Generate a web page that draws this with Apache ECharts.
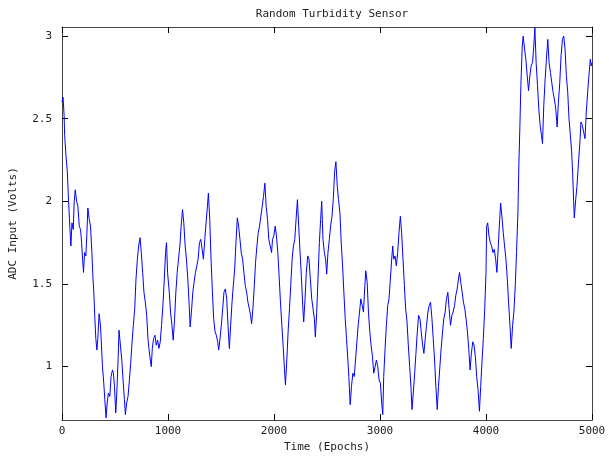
<!DOCTYPE html>
<html><head><meta charset="utf-8">
<script src="https://cdn.jsdelivr.net/npm/echarts@6/dist/echarts.min.js"></script>
<style>html,body{margin:0;padding:0;background:#fff}#c{width:609px;height:458px}</style>
</head><body><div id="c"></div>
<script>
const chartTitle = 'Random Turbidity Sensor';
const xName = 'Time (Epochs)';
const yName = 'ADC Input (Volts)';
const xRange = [0, 5000];
const xStep = 1000;
const yRange = [0.677, 3.055];
const yTicks = [1, 1.5, 2, 2.5, 3];

const epochs = [
0,10,20,25,37,50,62,75,84,94,106,115,125,138,150,163,175,185,194,203,213,225,235,244,257,269,282,291,300,310,319,329,338,350,363,372,382,394,404,416,426,438,451,463,476,485,495,507,517,529,538,551,564,576,589,598,610,623,636,648,661,673,686,698,711,723,736,748,761,773,786,799,811,820,833,842,852,864,877,889,902,914,927,939,952,965,977,986,
996,1012,1024,1037,1049,1062,1074,1087,1099,1112,1124,1137,1149,1162,1174,1187,1200,1209,1221,1234,1246,1259,1272,1284,1297,1309,1322,1334,1347,1359,1372,1381,1394,1406,1419,1431,1444,1456,1469,1478,1491,1503,1516,1528,1541,1554,1566,1579,1591,1604,1616,1629,1641,1654,1666,1679,1691,1704,1716,1729,1742,1754,1767,1779,1789,1801,1814,1826,1839,1851,1864,1876,1889,1901,1914,1926,1939,1951,1964,1977,
1986,1998,2011,2023,2036,2048,2061,2074,2086,2099,2108,2121,2133,2146,2158,2171,2183,2196,2208,2221,2233,2246,2258,2271,2280,2293,2305,2318,2330,2343,2356,2368,2381,2390,2403,2415,2428,2440,2450,2462,2475,2487,2497,2509,2522,2534,2547,2559,2572,2584,2597,2609,2622,2634,2647,2659,2672,2684,2697,2706,2719,2731,2744,2757,2769,2782,2794,2807,2819,2832,2844,2857,2866,2879,2891,2904,2916,2929,2941,2954,2966,2979,
2991,3004,3016,3026,3035,3048,3060,3073,3085,3098,3110,3120,3129,3142,3154,3167,3179,3192,3204,3217,3230,3242,3255,3267,3280,3292,3302,3314,3327,3339,3352,3364,3377,3389,3402,3414,3427,3439,3452,3464,3477,3490,3502,3515,3527,3540,3552,3565,3577,3590,3602,3615,3627,3640,3652,3665,3678,3690,3703,3715,3728,3740,3750,3762,3775,3787,3800,3812,3825,3837,3850,3862,3875,3887,3900,3912,3925,3938,3950,3963,3975,3988,4000,
4006,4016,4028,4041,4053,4066,4078,4091,4103,4116,4129,4138,4150,4163,4175,4188,4201,4213,4226,4238,4251,4263,4276,4288,4301,4310,4320,4329,4342,4351,4364,4376,4389,4401,4414,4426,4439,4451,4461,4473,4486,4498,4511,4523,4533,4545,4558,4570,4583,4595,4608,4620,4633,4645,4658,4671,4683,4696,4708,4721,4733,4746,4758,4771,4783,4796,4808,4818,4827,4833,4846,4858,4871,4884,4896,4909,4921,4934,4946,4959,4971,4984,4993,5000
];

const volts = [
2.60,2.63,2.52,2.40,2.28,2.18,2.00,1.83,1.73,1.87,1.83,2.00,2.07,2.00,1.97,1.85,1.83,1.75,1.65,1.57,1.69,1.67,1.81,1.96,1.89,1.85,1.69,1.55,1.45,1.29,1.17,1.10,1.17,1.32,1.25,1.13,1.00,0.90,0.80,0.69,0.78,0.84,0.82,0.94,0.98,0.96,0.88,0.72,0.84,1.04,1.22,1.13,1.04,0.92,0.80,0.71,0.78,0.82,0.92,1.02,1.15,1.25,1.35,1.53,1.65,1.73,1.78,1.69,1.57,1.45,1.39,1.31,1.17,1.11,1.04,1.00,1.11,1.17,1.19,1.13,1.16,1.11,1.15,1.25,1.37,1.53,1.69,1.75,
1.57,1.45,1.33,1.25,1.16,1.29,1.45,1.57,1.65,1.73,1.85,1.95,1.87,1.73,1.65,1.53,1.37,1.24,1.33,1.45,1.51,1.57,1.61,1.65,1.75,1.77,1.71,1.65,1.77,1.87,1.97,2.05,1.89,1.65,1.45,1.29,1.21,1.19,1.15,1.10,1.17,1.25,1.35,1.45,1.47,1.41,1.25,1.11,1.25,1.39,1.49,1.59,1.75,1.90,1.85,1.77,1.69,1.65,1.57,1.49,1.45,1.39,1.35,1.31,1.26,1.35,1.49,1.63,1.73,1.81,1.85,1.91,1.97,2.03,2.11,1.97,1.89,1.77,1.73,1.69,
1.77,1.79,1.85,1.79,1.69,1.55,1.39,1.25,1.13,0.98,0.89,1.04,1.21,1.35,1.49,1.65,1.73,1.77,1.89,2.01,1.85,1.69,1.55,1.37,1.27,1.41,1.57,1.67,1.65,1.53,1.41,1.35,1.29,1.18,1.33,1.53,1.75,1.89,2.00,1.77,1.69,1.65,1.56,1.69,1.77,1.85,1.91,2.01,2.18,2.24,2.09,2.01,1.93,1.75,1.61,1.45,1.29,1.17,1.04,0.94,0.77,0.88,0.96,0.94,1.04,1.15,1.25,1.33,1.41,1.37,1.33,1.49,1.58,1.51,1.33,1.21,1.13,1.06,0.96,1.00,1.04,1.00,
0.92,0.90,0.78,0.71,0.94,1.11,1.25,1.37,1.41,1.53,1.65,1.73,1.65,1.67,1.61,1.69,1.81,1.91,1.81,1.65,1.49,1.35,1.27,1.13,1.00,0.88,0.74,0.84,0.96,1.08,1.21,1.31,1.29,1.21,1.13,1.08,1.17,1.25,1.33,1.37,1.39,1.29,1.17,1.04,0.88,0.74,0.88,1.00,1.11,1.21,1.29,1.33,1.41,1.45,1.35,1.25,1.31,1.33,1.37,1.43,1.47,1.53,1.57,1.51,1.45,1.39,1.35,1.29,1.21,1.11,0.98,1.08,1.15,1.13,1.06,0.94,0.86,0.73,0.88,1.04,1.17,1.35,1.57,
1.85,1.87,1.79,1.75,1.73,1.69,1.71,1.65,1.57,1.73,1.89,1.99,1.91,1.81,1.73,1.65,1.53,1.39,1.25,1.11,1.25,1.33,1.49,1.69,1.93,2.22,2.46,2.70,2.94,3.00,2.92,2.86,2.76,2.67,2.76,2.82,2.84,2.94,3.05,2.84,2.70,2.56,2.46,2.40,2.35,2.58,2.74,2.86,2.98,2.84,2.78,2.72,2.66,2.62,2.56,2.45,2.60,2.72,2.88,2.98,3.00,2.92,2.76,2.66,2.50,2.40,2.30,2.16,2.00,1.90,2.01,2.09,2.22,2.34,2.48,2.46,2.42,2.38,2.54,2.66,2.76,2.86,2.82,2.84
];

const FONT = 'DejaVu Sans Mono';
const TXT = '#222';
const chart = echarts.init(document.getElementById('c'), null, {renderer: 'canvas'});
const points = epochs.map((t, i) => [t, volts[i]]);

const baseX = {
  type: 'value', min: xRange[0], max: xRange[1], interval: xStep,
  splitLine: {show: false},
  axisLine: {show: true, lineStyle: {color: '#444', width: 1}},
  axisTick: {show: true, inside: true, length: 6, lineStyle: {color: '#000'}},
};
const baseY = {
  type: 'value', min: yRange[0], max: yRange[1],
  splitLine: {show: false},
  axisLine: {show: true, onZero: false, lineStyle: {color: '#444', width: 1}},
  axisTick: {show: true, inside: true, length: 6, customValues: yTicks, lineStyle: {color: '#000'}},
};

chart.setOption({
  animation: false,
  backgroundColor: '#fff',
  title: {
    text: chartTitle, left: 327, top: 4, textAlign: 'center',
    textStyle: {fontFamily: FONT, fontSize: 11, fontWeight: 'normal', color: TXT}
  },
  grid: {left: 60, top: 27, width: 532, height: 393, containLabel: false},
  xAxis: [
    Object.assign({}, baseX, {
      position: 'bottom',
      name: xName, nameLocation: 'middle', nameGap: 21,
      nameTextStyle: {fontFamily: FONT, fontSize: 11, color: TXT},
      axisLabel: {show: true, margin: 6, fontFamily: FONT, fontSize: 11, color: TXT,
        formatter: v => String(v)}
    }),
    Object.assign({}, baseX, {position: 'top', axisLabel: {show: false}})
  ],
  yAxis: [
    Object.assign({}, baseY, {
      position: 'left',
      name: yName, nameLocation: 'middle', nameGap: 43,
      nameTextStyle: {fontFamily: FONT, fontSize: 11, color: TXT},
      axisLabel: {show: true, margin: 10, customValues: yTicks, fontFamily: FONT, fontSize: 11, color: TXT,
        formatter: v => String(v)}
    }),
    Object.assign({}, baseY, {position: 'right', axisLabel: {show: false}})
  ],
  series: [{
    type: 'line', data: points, xAxisIndex: 0, yAxisIndex: 0,
    showSymbol: false, symbol: 'none',
    lineStyle: {color: '#0000ff', width: 1},
    clip: true
  }]
});
</script>
</body></html>
